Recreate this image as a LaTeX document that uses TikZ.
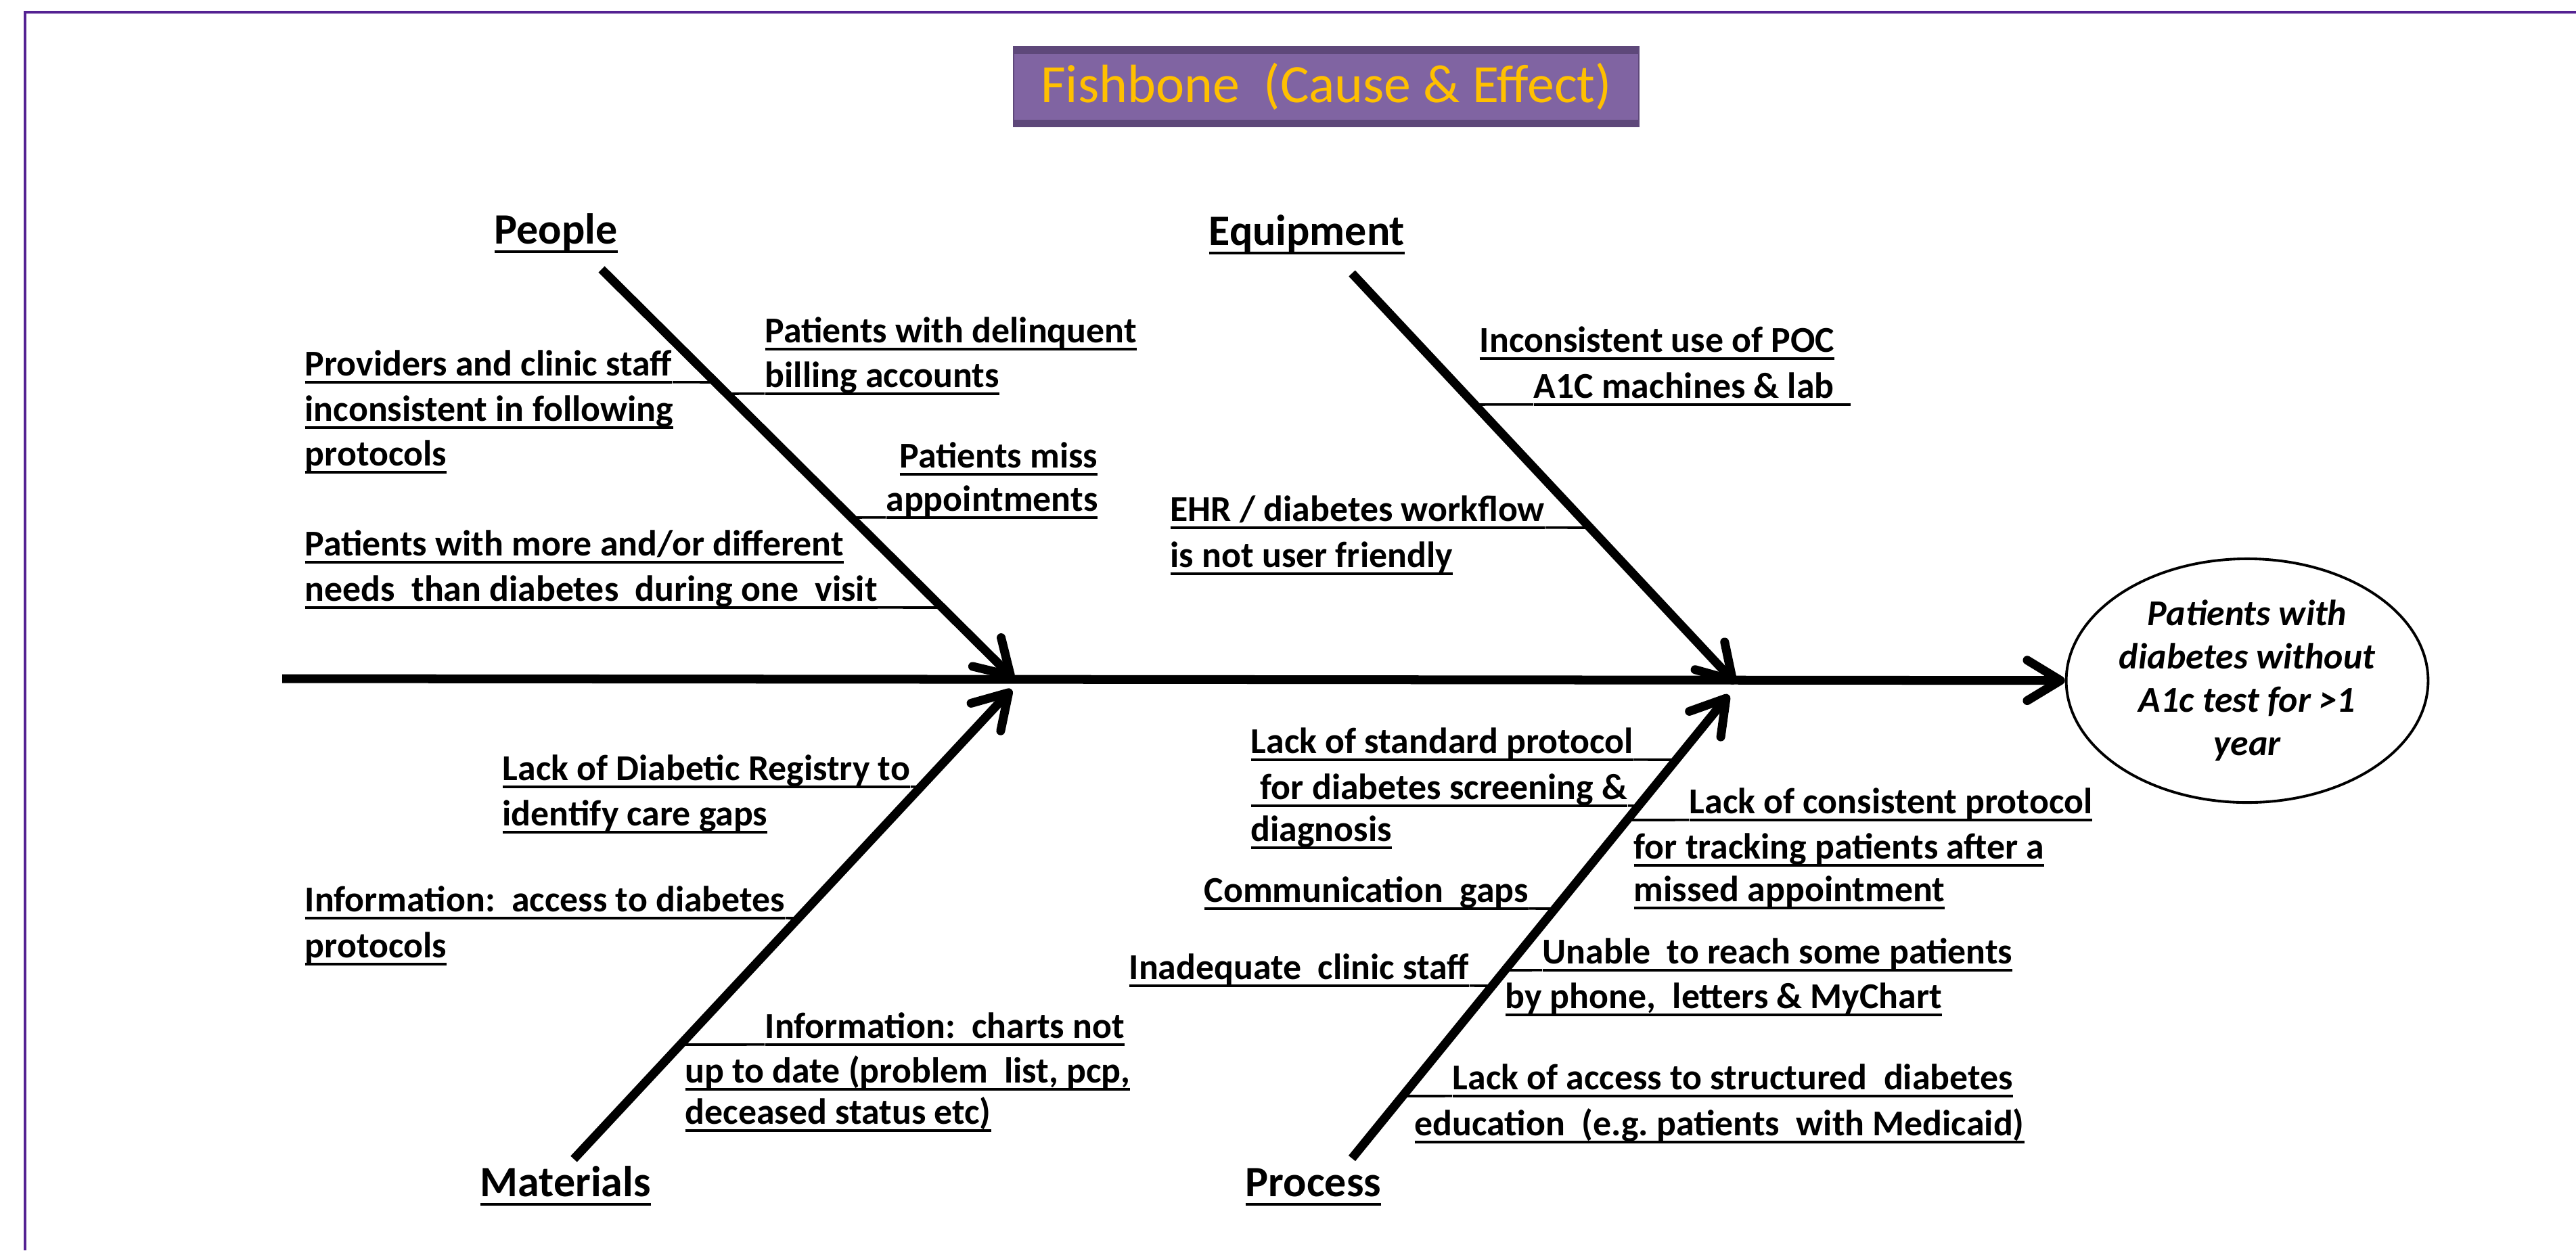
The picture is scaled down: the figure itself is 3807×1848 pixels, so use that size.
\documentclass[tikz,border=0pt]{standalone}
\usepackage{fontspec}
\setmainfont{Carlito}
\usetikzlibrary{arrows.meta,calc,shapes.geometric}

\definecolor{framepurple}{RGB}{84,34,146}
\definecolor{titlefill}{RGB}{128,100,162}
\definecolor{titleband}{RGB}{94,72,122}
\definecolor{titlegold}{RGB}{255,192,0}

\newcommand{\ulx}[1]{\setbox0=\hbox{#1}\rlap{\vrule height -0.15em depth 0.22em width \wd0}\box0}
\newcommand{\twig}[3]{%
  \coordinate (#1w) at ($(#1.base west)+(0,-2.8pt)$);
  \coordinate (#1e) at ($(#1.base east)+(0,-2.8pt)$);
  \draw[twigline] (#1#2) -- (intersection of #3S--#3T and #1w--#1e);}

\tikzset{
  bone/.style={line width=3.7pt, -{Straight Barb[length=14pt,width=17pt,round]}},
  twigline/.style={line width=1.05pt},
  cause/.style={anchor=base west, inner sep=0pt, font=\bfseries\fontsize{15.3}{18}\selectfont},
  causer/.style={cause, anchor=base east},
  head/.style={anchor=base west, inner sep=0pt, font=\bfseries\fontsize{18.2}{22}\selectfont},
  effect/.style={ellipse, draw, line width=1.1pt, minimum width=4.98cm, minimum height=3.6cm,
    align=center, inner sep=0pt, font=\bfseries\itshape\fontsize{15.3}{18.2}\selectfont},
  titlebox/.style={minimum width=9.23cm, minimum height=1.18cm, fill=titlefill, draw=titleband,
    line width=0.5pt, text=titlegold, font=\fontsize{22.7}{27}\selectfont,
    path picture={
      \fill[titleband] (path picture bounding box.north west) rectangle ([yshift=-0.11cm]path picture bounding box.north east);
      \fill[titleband] (path picture bounding box.south west) rectangle ([yshift=0.1cm]path picture bounding box.south east);}}
}
\frenchspacing

\begin{document}
\begin{tikzpicture}[x=0.01cm, y=-0.01cm]

  \useasboundingbox (0,0) rectangle (3807,1848);
  \draw[framepurple, line width=0.9pt] (37,1848) -- (37,18) -- (3807,18);

  \node[titlebox] (ttl) at (1960,128) {Fishbone\ \ (Cause \& Effect)};

  \node[effect] (eff) at (3321,1006) {Patients with\\diabetes without\\A1c test for >1\\year};

  \coordinate (spS) at (417,1003);
  \coordinate (peoS) at (889,398);   \coordinate (peoT) at (1498,1003);
  \coordinate (equS) at (1998,404);  \coordinate (equT) at (2565,1010);
  \coordinate (matS) at (848,1713);  \coordinate (matT) at (1495,1019);
  \coordinate (proS) at (1998,1712); \coordinate (proT) at (2555,1027);

  \draw[bone] (spS) -- (eff);
  \foreach \bn in {peo,equ,mat,pro}{
    \draw[bone] (\bn S) -- (\bn T);
  }

  \node[head] (people) at (730,360) {\ulx{People}};
  \node[head] (equip) at (1786,362) {\ulx{Equipment}};
  \node[head] (materials) at (709,1768) {\ulx{Materials}};
  \node[head] (process) at (1840,1768) {\ulx{Process}};

  \node[cause] (pe1) at (450,555) {\ulx{Providers and clinic staff}};
  \node[cause] (pe2) at (450,622) {\ulx{inconsistent in following}};
  \node[cause] (pe3) at (450,688) {\ulx{protocols}};
  \node[cause] (pe4) at (1130,506) {\ulx{Patients with delinquent}};
  \node[cause] (pe5) at (1130,572) {\ulx{billing accounts}};
  \node[causer] (pe6) at (1623,691) {\ulx{Patients miss}};
  \node[causer] (pe7) at (1623,755) {\ulx{appointments}};
  \node[cause] (pe8) at (450,821) {\ulx{Patients with more and/or different}};
  \node[cause] (pe9) at (450,888) {\ulx{needs\ \ than diabetes\ \ during one\ \ visit}};

  \node[cause] (eq1) at (2186,520) {\ulx{Inconsistent use of POC}};
  \node[cause] (eq2) at (2266,588) {\ulx{A1C machines \& lab\kern7pt}};
  \node[cause] (eq3) at (1729,770) {\ulx{EHR / diabetes workflow}};
  \node[cause] (eq4) at (1729,838) {\ulx{is not user friendly}};

  \node[cause] (ma1) at (742,1153) {\ulx{Lack of Diabetic Registry to}};
  \node[cause] (ma2) at (742,1220) {\ulx{identify care gaps}};
  \node[cause] (ma3) at (450,1347) {\ulx{Information:\ \ access to diabetes}};
  \node[cause] (ma4) at (450,1415) {\ulx{protocols}};
  \node[cause] (ma5) at (1130,1534) {\ulx{Information:\ \ charts not}};
  \node[cause] (ma6) at (1012,1600) {\ulx{up to date (problem\ \ list, pcp,}};
  \node[cause] (ma7) at (1012,1661) {\ulx{deceased status etc)}};

  \node[cause] (pr1) at (1848,1113) {\ulx{Lack of standard protocol}};
  \node[cause] (pr2) at (1848,1181) {\ulx{\kern4pt for diabetes screening \&}};
  \node[cause] (pr3) at (1848,1243) {\ulx{diagnosis}};
  \node[cause] (pr4) at (2496,1202) {\ulx{Lack of consistent protocol}};
  \node[cause] (pr5) at (2414,1269) {\ulx{for tracking patients after a}};
  \node[cause] (pr6) at (2414,1332) {\ulx{missed appointment}};
  \node[cause] (pr7) at (1779,1333) {\ulx{Communication\ \ gaps}};
  \node[cause] (pr8) at (2279,1424) {\ulx{Unable\ \ to reach some patients}};
  \node[cause] (pr9) at (2224,1490) {\ulx{by phone,\ \ letters \& MyChart}};
  \node[cause] (pr10) at (1668,1447) {\ulx{Inadequate\ \ clinic staff}};
  \node[cause] (pr11) at (2146,1610) {\ulx{Lack of access to structured\ \ diabetes}};
  \node[cause] (pr12) at (2090,1678) {\ulx{education\ \ (e.g. patients\ \ with Medicaid)}};

  \foreach \n/\side/\bn in {pe1/e/peo, pe5/w/peo, pe7/w/peo, pe9/e/peo,
      eq2/w/equ, eq3/e/equ, ma1/e/mat, ma3/e/mat, ma5/w/mat,
      pr1/e/pro, pr2/e/pro, pr4/w/pro, pr7/e/pro, pr8/w/pro, pr10/e/pro, pr11/w/pro}{
    \twig{\n}{\side}{\bn}
  }

\end{tikzpicture}
\end{document}
